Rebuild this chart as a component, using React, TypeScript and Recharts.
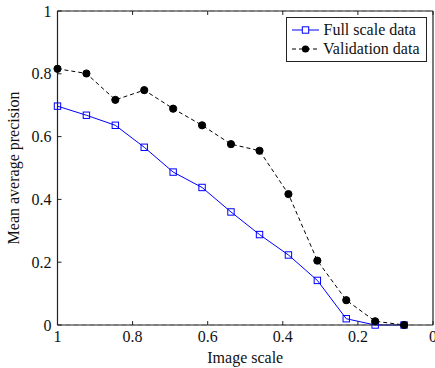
import React from "react";
import { LineChart, Line, XAxis, YAxis, CartesianGrid, Legend } from "recharts";

const imageScale = [1, 0.923, 0.846, 0.769, 0.692, 0.615, 0.538, 0.462, 0.385, 0.308, 0.231, 0.154, 0.077];
const fullScale = [0.697, 0.668, 0.636, 0.566, 0.487, 0.438, 0.36, 0.288, 0.223, 0.142, 0.02, 0, 0];
const validation = [0.816, 0.801, 0.717, 0.748, 0.689, 0.636, 0.576, 0.555, 0.417, 0.205, 0.079, 0.012, 0];
const xTicks = [1, 0.8, 0.6, 0.4, 0.2, 0];
const yTicks = [0, 0.2, 0.4, 0.6, 0.8, 1];

const data = imageScale.map((x, i) => ({ x, full: fullScale[i], valid: validation[i] }));

const FONT = "Liberation Serif, DejaVu Serif, serif";
const FRAME = "#222";

const fmt = (v: number) => (v === 0 ? "0" : v === 1 ? "1" : String(v));

const BottomTick = (props: any) => {
  const { x, y, payload } = props;
  return (
    <g>
      <line x1={x} y1={y} x2={x} y2={y - 4} stroke={FRAME} strokeWidth={1} />
      <text x={x} y={y + 17} textAnchor="middle" style={{ fontFamily: FONT }} fontSize={16} fill="#111">
        {fmt(payload.value)}
      </text>
    </g>
  );
};
const TopTick = (props: any) => {
  const { x, y } = props;
  return <line x1={x} y1={y} x2={x} y2={y + 4} stroke={FRAME} strokeWidth={1} />;
};
const LeftTick = (props: any) => {
  const { x, y, payload } = props;
  return (
    <g>
      <line x1={x} y1={y} x2={x + 4} y2={y} stroke={FRAME} strokeWidth={1} />
      <text x={x - 6} y={y} textAnchor="end" dominantBaseline="central" style={{ fontFamily: FONT }} fontSize={16} fill="#111">
        {fmt(payload.value)}
      </text>
    </g>
  );
};
const RightTick = (props: any) => {
  const { x, y } = props;
  return <line x1={x} y1={y} x2={x - 4} y2={y} stroke={FRAME} strokeWidth={1} />;
};

const SquareDot = (props: any) => {
  const { cx, cy, index } = props;
  if (cx == null || cy == null) return <g key={index} />;
  return <rect key={index} x={cx - 3.2} y={cy - 3.2} width={6.4} height={6.4} fill="none" stroke="#0000ff" strokeWidth={1} />;
};
const CircleDot = (props: any) => {
  const { cx, cy, index } = props;
  if (cx == null || cy == null) return <g key={index} />;
  return <circle key={index} cx={cx} cy={cy} r={3.6} fill="#000" stroke="#000" />;
};

const LegendBox = () => (
  <div
    style={{
      border: "1px solid #222",
      background: "#fff",
      fontFamily: FONT,
      fontSize: 16,
      lineHeight: "18.5px",
      padding: "3px 6px 3px 5px",
      color: "#111",
      whiteSpace: "nowrap",
      boxSizing: "border-box",
      width: 141,
    }}
  >
    <div style={{ display: "flex", alignItems: "center" }}>
      <svg width={28} height={12} style={{ marginRight: 4 }}>
        <line x1={0} y1={6} x2={27} y2={6} stroke="#0000ff" strokeWidth={1} />
        <rect x={10.3} y={2.8} width={6.4} height={6.4} fill="#fff" stroke="#0000ff" />
      </svg>
      <span>Full scale data</span>
    </div>
    <div style={{ display: "flex", alignItems: "center" }}>
      <svg width={28} height={12} style={{ marginRight: 4 }}>
        <line x1={0} y1={6} x2={27} y2={6} stroke="#000" strokeWidth={1} strokeDasharray="4 3" />
        <circle cx={13.5} cy={6} r={3.6} fill="#000" />
      </svg>
      <span>Validation data</span>
    </div>
  </div>
);

export default function App() {
  return (
    <div style={{ position: "absolute", left: 0, top: 0, width: 435, height: 368, background: "#fff" }}>
      <LineChart width={435} height={368} data={data} margin={{ top: 10, right: 1, left: 0, bottom: 0 }}>
        <CartesianGrid horizontal vertical={false} stroke="#b3b3b3" strokeDasharray="5 3" />
        <XAxis
          xAxisId="b"
          dataKey="x"
          type="number"
          domain={[0, 1]}
          reversed
          ticks={xTicks}
          height={43}
          axisLine={{ stroke: FRAME, strokeWidth: 1.2 }}
          tickLine={false}
          tickSize={0}
          tickMargin={0}
          tick={<BottomTick />}
          interval={0}
          label={(p: any) => {
            const vb = p.viewBox || {};
            return (
              <text x={vb.x + vb.width / 2} y={vb.y + 38} textAnchor="middle" style={{ fontFamily: FONT }} fontSize={16} fill="#111">
                Image scale
              </text>
            );
          }}
        />
        <XAxis
          xAxisId="t"
          dataKey="x"
          type="number"
          domain={[0, 1]}
          reversed
          orientation="top"
          ticks={xTicks}
          height={1}
          axisLine={{ stroke: FRAME, strokeWidth: 1.2 }}
          tickLine={false}
          tickSize={0}
          tickMargin={0}
          tick={<TopTick />}
          interval={0}
        />
        <YAxis
          yAxisId="l"
          type="number"
          domain={[0, 1]}
          ticks={yTicks}
          width={57.5}
          axisLine={{ stroke: FRAME, strokeWidth: 1.2 }}
          tickLine={false}
          tickSize={0}
          tickMargin={0}
          tick={<LeftTick />}
          interval={0}
          label={(p: any) => {
            const vb = p.viewBox || {};
            const cy = vb.y + vb.height / 2;
            return (
              <text
                x={13}
                y={cy}
                transform={`rotate(-90, 13, ${cy})`}
                textAnchor="middle"
                dominantBaseline="central"
                style={{ fontFamily: FONT }}
                fontSize={16}
                fill="#111"
              >
                Mean average precision
              </text>
            );
          }}
        />
        <YAxis
          yAxisId="r"
          orientation="right"
          type="number"
          domain={[0, 1]}
          ticks={yTicks}
          width={1}
          axisLine={{ stroke: FRAME, strokeWidth: 1.2 }}
          tickLine={false}
          tickSize={0}
          tickMargin={0}
          tick={<RightTick />}
          interval={0}
        />
        <Legend
          layout="horizontal"
          verticalAlign="middle"
          align="center"
          content={() => <LegendBox />}
          wrapperStyle={{ position: "absolute", left: 285.5, top: 17, width: 141, height: 46 }}
        />
        <Line
          xAxisId="b"
          yAxisId="l"
          dataKey="full"
          stroke="#0000ff"
          strokeWidth={1}
          dot={SquareDot}
          activeDot={false}
          isAnimationActive={false}
        />
        <Line
          xAxisId="b"
          yAxisId="l"
          dataKey="valid"
          stroke="#000"
          strokeWidth={1}
          strokeDasharray="4 3"
          dot={CircleDot}
          activeDot={false}
          isAnimationActive={false}
        />
      </LineChart>
    </div>
  );
}
